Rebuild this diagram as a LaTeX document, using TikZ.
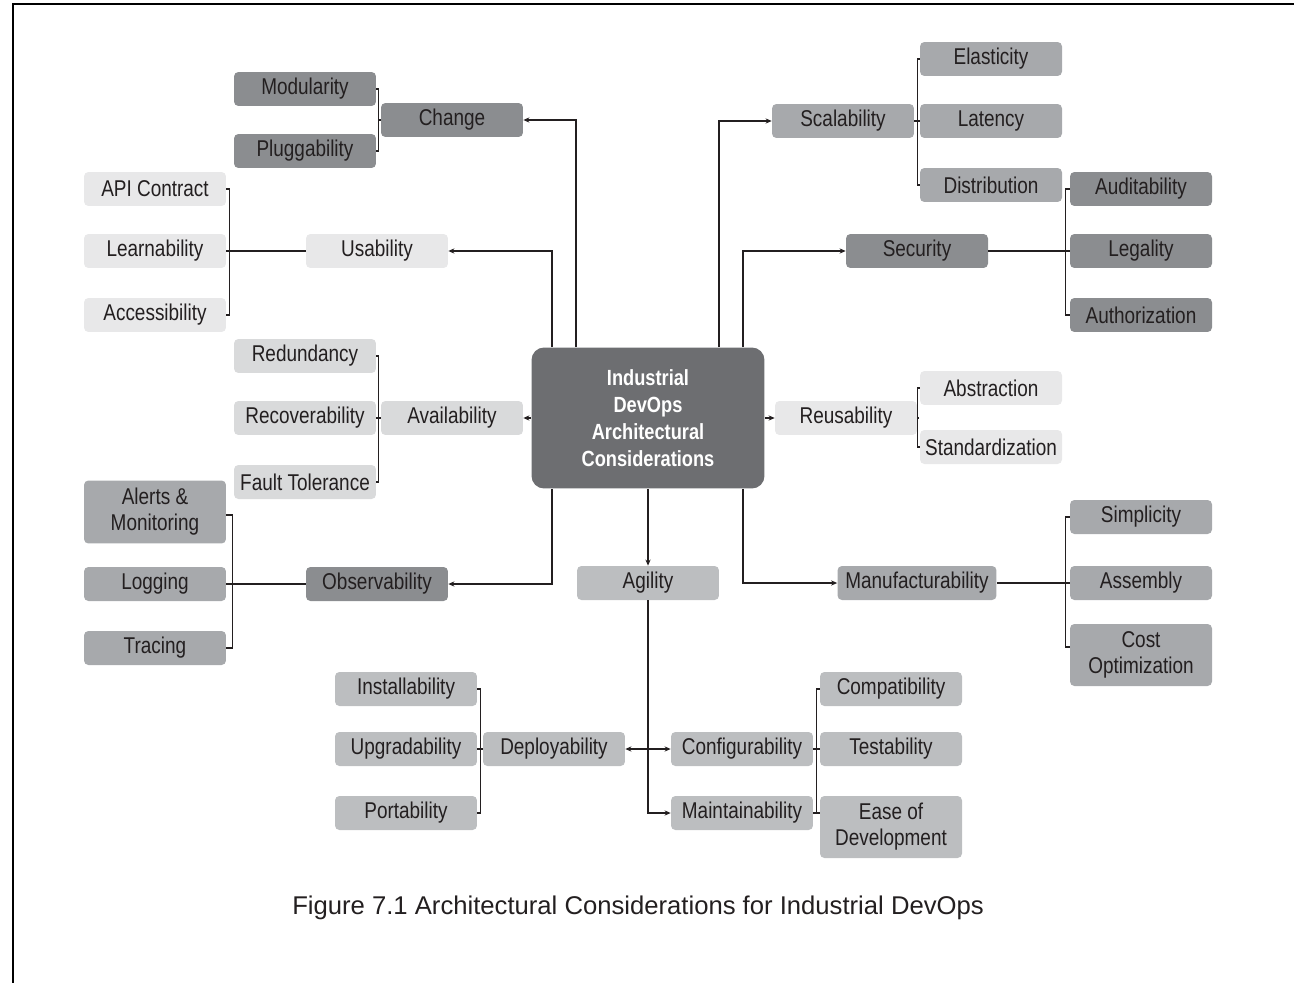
\documentclass[tikz,border=0pt]{standalone}
\usepackage{fontspec}
\setmainfont{Liberation Sans}
\newfontfamily\narrowfont[FakeStretch=0.83]{Liberation Sans}
\usetikzlibrary{arrows.meta}

\definecolor{hubgrey}{HTML}{6D6E71}
\definecolor{darkgrey}{HTML}{8B8D90}
\definecolor{midgrey}{HTML}{A7A9AC}
\definecolor{agilegrey}{HTML}{BCBEC0}
\definecolor{palegrey}{HTML}{D9DADB}
\definecolor{lightgrey}{HTML}{E8E8E9}
\definecolor{inkgrey}{HTML}{231F20}

\begin{document}
\begin{tikzpicture}[x=0.02cm,y=-0.02cm,>={Stealth[length=3.5pt,width=3pt]},
    every node/.style={font=\narrowfont\fontsize{13}{14.7}\selectfont,text=inkgrey},
    box/.style={rounded corners=2.5pt,minimum width=2.84cm,minimum height=0.68cm,
      inner sep=1pt,align=center},
    darkbox/.style={box,fill=darkgrey},
    midbox/.style={box,fill=midgrey},
    agilebox/.style={box,fill=agilegrey},
    palebox/.style={box,fill=palegrey},
    lightbox/.style={box,fill=lightgrey},
    link/.style={line width=0.8pt,draw=inkgrey}]
  \useasboundingbox (0,0) rectangle (1294,983);
  \draw[line width=1.4pt] (13,983) -- (13,4) -- (1294,4);

  % hub
  \node[rounded corners=0.25cm,fill=hubgrey,minimum width=4.66cm,minimum height=2.82cm,
    align=center,text=white,font=\narrowfont\bfseries\fontsize{12.5}{15.3}\selectfont]
    (hub) at (648,418) {Industrial\\DevOps\\Architectural\\Considerations};

  % upper left
  \node[darkbox] (change) at (452,120) {Change};
  \node[darkbox] (modularity) at (305,89) {Modularity};
  \node[darkbox] (pluggability) at (305,151) {Pluggability};
  \node[lightbox] (usability) at (377,251) {Usability};
  \node[lightbox] (apicontract) at (155,189) {API Contract};
  \node[lightbox] (learnability) at (155,251) {Learnability};
  \node[lightbox] (accessibility) at (155,315) {Accessibility};
  \node[palebox] (availability) at (452,418) {Availability};
  \node[palebox] (redundancy) at (305,356) {Redundancy};
  \node[palebox] (recoverability) at (305,418) {Recoverability};
  \node[palebox] (faulttolerance) at (305,482) {Fault Tolerance};

  % upper right
  \node[midbox] (scalability) at (843,121) {Scalability};
  \node[midbox] (elasticity) at (991,59) {Elasticity};
  \node[midbox] (latency) at (991,121) {Latency};
  \node[midbox] (distribution) at (991,185) {Distribution};
  \node[darkbox] (security) at (917,251) {Security};
  \node[darkbox] (auditability) at (1141,189) {Auditability};
  \node[darkbox] (legality) at (1141,251) {Legality};
  \node[darkbox] (authorization) at (1141,315) {Authorization};
  \node[lightbox] (reusability) at (846,418) {Reusability};
  \node[lightbox] (abstraction) at (991,388) {Abstraction};
  \node[lightbox] (standardization) at (991,447) {Standardization};

  % lower left
  \node[darkbox] (observability) at (377,584) {Observability};
  \node[midbox,minimum height=1.26cm] (alerts) at (155,512) {Alerts \&\\Monitoring};
  \node[midbox] (logging) at (155,584) {Logging};
  \node[midbox] (tracing) at (155,648) {Tracing};

  % lower right
  \node[midbox,minimum width=3.18cm] (manufacturability) at (917,583) {Manufacturability};
  \node[midbox] (simplicity) at (1141,517) {Simplicity};
  \node[midbox] (assembly) at (1141,583) {Assembly};
  \node[midbox,minimum height=1.24cm] (costopt) at (1141,655) {Cost\\Optimization};

  % agility
  \node[agilebox] (agility) at (648,583) {Agility};
  \node[agilebox] (deployability) at (554,749) {Deployability};
  \node[agilebox] (installability) at (406,689) {Installability};
  \node[agilebox] (upgradability) at (406,749) {Upgradability};
  \node[agilebox] (portability) at (406,813) {Portability};
  \node[agilebox] (configurability) at (742,749) {Configurability};
  \node[agilebox] (maintainability) at (742,813) {Maintainability};
  \node[agilebox] (compatibility) at (891,689) {Compatibility};
  \node[agilebox] (testability) at (891,749) {Testability};
  \node[agilebox,minimum height=1.24cm] (easedev) at (891,827) {Ease of\\Development};

  % hub to first level
  \draw[link,->] ([xshift=-1.44cm]hub.north) |- (change.east);
  \draw[link,->] ([xshift=-1.92cm]hub.north) |- (usability.east);
  \draw[link,->] ([xshift=1.42cm]hub.north) |- (scalability.west);
  \draw[link,->] ([xshift=1.9cm]hub.north) |- (security.west);
  \draw[link,->] (hub.west) -- (availability.east);
  \draw[link,->] (hub.east) -- (reusability.west);
  \draw[link,->] ([xshift=-1.92cm]hub.south) |- (observability.east);
  \draw[link,->] ([xshift=1.9cm]hub.south) |- (manufacturability.west);
  \draw[link,->] (hub.south) -- (agility.north);
  \draw[link,->] (agility.south) |- (maintainability.west);
  \draw[link,<->] (deployability.east) -- (configurability.west);

  % brackets
  \draw[link] (change.west) -- ++(-3,0);
  \draw[link] (modularity.east) -- ++(2,0) |- (pluggability.east);
  \draw[link] (scalability.east) -- (latency.west);
  \draw[link] (elasticity.west) -- ++(-2,0) |- (distribution.west);
  \draw[link] (security.east) -- (legality.west);
  \draw[link] (auditability.west) -- ++(-4,0) |- (authorization.west);
  \draw[link] (usability.west) -- (learnability.east);
  \draw[link] (apicontract.east) -- ++(3,0) |- (accessibility.east);
  \draw[link] (availability.west) -- (recoverability.east);
  \draw[link] (redundancy.east) -- ++(2,0) |- (faulttolerance.east);
  \draw[link] (reusability.east) -- ++(2,0);
  \draw[link] (abstraction.west) -- ++(-2,0) |- (standardization.west);
  \draw[link] (observability.west) -- (logging.east);
  \draw[link] ([yshift=-0.06cm]alerts.east) -- ++(6,0) |- (tracing.east);
  \draw[link] (manufacturability.east) -- (assembly.west);
  \draw[link] (simplicity.west) -- ++(-4,0) |- ([yshift=0.16cm]costopt.west);
  \draw[link] (deployability.west) -- (upgradability.east);
  \draw[link] (installability.east) -- ++(3,0) |- (portability.east);
  \draw[link] (configurability.east) -- (testability.west);
  \draw[link] (maintainability.east) -- (easedev.west |- maintainability.east);
  \draw[link] (compatibility.west) -- ++(-3,0) |- (easedev.west |- maintainability.east);

  \node[font=\fontsize{14.6}{16}\selectfont,text=inkgrey] (caption) at (638,908)
    {Figure 7.1 Architectural Considerations for Industrial DevOps};
\end{tikzpicture}
\end{document}
